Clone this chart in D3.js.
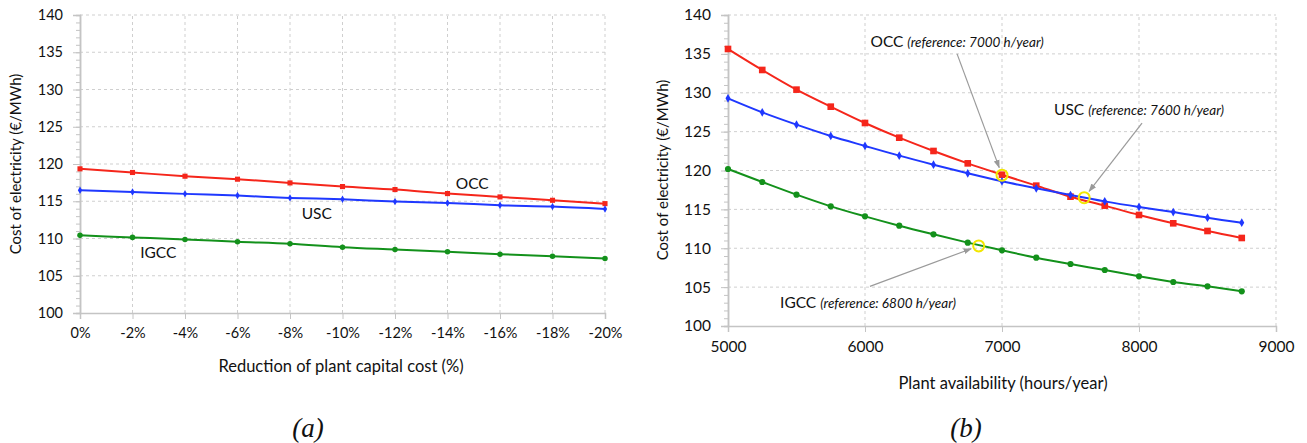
<!DOCTYPE html>
<html>
<head>
<meta charset="utf-8">
<script src="https://cdn.jsdelivr.net/npm/d3@7"></script>
<style>
  body { margin: 0; background: #fff; }
  svg text { font-family: Lato, "Open Sans", sans-serif; fill: #111; }
</style>
</head>
<body>
<script>
// panel (a): capital cost reduction
let capexCats = ["0%", "-2%", "-4%", "-6%", "-8%", "-10%", "-12%", "-14%", "-16%", "-18%", "-20%"];
let capexOCC  = [119.35, 118.86, 118.36, 117.96, 117.46, 116.97, 116.57, 116.03, 115.58, 115.13, 114.68];
let capexUSC  = [116.48, 116.25, 115.99, 115.76, 115.45, 115.26, 114.95, 114.77, 114.46, 114.28, 113.96];
let capexIGCC = [110.42, 110.15, 109.88, 109.56, 109.29, 108.84, 108.53, 108.22, 107.90, 107.63, 107.32];

// panel (b): plant availability
let hours    = [5000, 5250, 5500, 5750, 6000, 6250, 6500, 6750, 7000, 7250, 7500, 7750, 8000, 8250, 8500, 8750];
let availOCC = [135.63, 132.93, 130.40, 128.21, 126.11, 124.22, 122.51, 120.92, 119.46, 118.05, 116.63, 115.48, 114.28, 113.21, 112.22, 111.32];
let availUSC = [129.28, 127.48, 125.90, 124.44, 123.16, 121.91, 120.75, 119.64, 118.61, 117.71, 116.85, 116.03, 115.31, 114.66, 113.93, 113.29];
let availIGCC= [120.19, 118.52, 116.89, 115.39, 114.10, 112.90, 111.79, 110.72, 109.73, 108.79, 107.97, 107.20, 106.39, 105.66, 105.10, 104.46];

let yTicks = [100, 105, 110, 115, 120, 125, 130, 135, 140];
let hourTicks = [5000, 6000, 7000, 8000, 9000];

// reference points (b): label spot, arrow start, highlighted point
let refNotes = [
  { name: "OCC",  note: "(reference: 7000 h/year)", lx: 6040, ly: 135.9, ax: 6672, ay: 135.0, px: 7000, py: 119.4 },
  { name: "USC",  note: "(reference: 7600 h/year)", lx: 7380, ly: 127.1, ax: 8022, ay: 126.1, px: 7600, py: 116.5 },
  { name: "IGCC", note: "(reference: 6800 h/year)", lx: 5380, ly: 102.3, ax: 6036, ay: 105.1, px: 6830, py: 110.3 }
];

// series labels (a), position as category index + value
let capexLabels = [
  { text: "OCC",  idx: 7.47, v: 117.45 },
  { text: "USC",  idx: 4.51, v: 113.4 },
  { text: "IGCC", idx: 1.49, v: 108.2 }
];

let red = "#f5261b", blue = "#1f38ff", green = "#13911b";
let gridColor = "#cfcfcf", axisColor = "#c4c4c4";

let width = 1307, height = 443;
let svg = d3.select("body").append("svg")
            .attr("width", width)
            .attr("height", height);

let defs = svg.append("defs");
defs.append("marker")
    .attr("id", "arrow")
    .attr("viewBox", "0 0 10 10")
    .attr("refX", 9).attr("refY", 5)
    .attr("markerWidth", 7).attr("markerHeight", 7)
    .attr("orient", "auto")
  .append("path")
    .attr("d", "M0,1.5 L10,5 L0,8.5 Z")
    .attr("fill", "#9a9a9a");

function styleAxis(g) {
  g.select(".domain").attr("stroke", axisColor).attr("stroke-width", 1.5);
  g.selectAll(".tick line").attr("stroke", axisColor);
  g.selectAll(".tick text").attr("fill", "#111");
}

function drawFrame(opts) {
  let x = opts.x, y = opts.y;
  let x0 = opts.xRange[0], x1 = opts.xRange[1];
  let y0 = y.range()[0], y1 = y.range()[1];
  let g = svg.append("g");

  // horizontal grid
  g.append("g").selectAll("line").data(yTicks.slice(1)).join("line")
    .attr("x1", x0).attr("x2", x1)
    .attr("y1", d => y(d)).attr("y2", d => y(d))
    .attr("stroke", gridColor).attr("stroke-dasharray", "3,3");
  // vertical grid
  g.append("g").selectAll("line").data(opts.xGrid).join("line")
    .attr("x1", d => opts.xPos(d)).attr("x2", d => opts.xPos(d))
    .attr("y1", y0).attr("y2", y1)
    .attr("stroke", gridColor).attr("stroke-dasharray", "3,3");

  // minor y ticks
  g.append("g")
    .attr("transform", "translate(" + x0 + ",0)")
    .call(d3.axisLeft(y).tickValues(d3.range(100, 141, 1)).tickSize(4).tickFormat(""))
    .call(styleAxis);
  // major y ticks
  g.append("g")
    .attr("transform", "translate(" + x0 + ",0)")
    .call(d3.axisLeft(y).tickValues(yTicks).tickSize(7).tickPadding(10))
    .call(styleAxis)
    .selectAll(".tick text").attr("font-size", opts.tickFont);

  // x axis
  g.append("g")
    .attr("transform", "translate(0," + y0 + ")")
    .call(opts.xAxis.tickSize(6).tickPadding(9))
    .call(styleAxis)
    .selectAll(".tick text").attr("font-size", opts.tickFont);

  g.append("text")
    .attr("x", opts.xTitle[0]).attr("y", opts.xTitle[1])
    .attr("text-anchor", "middle").attr("font-size", 16.5)
    .text(opts.xLabel);
  g.append("text")
    .attr("transform", "translate(" + opts.yTitle[0] + "," + opts.yTitle[1] + ") rotate(-90)")
    .attr("text-anchor", "middle").attr("dominant-baseline", "central").attr("font-size", 15)
    .text("Cost of electricity (€/MWh)");
  g.append("text")
    .attr("x", opts.tag[0]).attr("y", opts.tag[1])
    .attr("text-anchor", "middle")
    .style("font-family", "'Liberation Serif', 'DejaVu Serif', serif")
    .style("font-style", "italic").attr("font-size", 27)
    .text(opts.tagText);
  return g;
}

function drawSeries(g, pts, color, shape, size) {
  let line = d3.line().x(d => d[0]).y(d => d[1]).curve(d3.curveMonotoneX);
  g.append("path").datum(pts)
    .attr("d", line)
    .attr("fill", "none").attr("stroke", color).attr("stroke-width", 2);
  g.append("g").selectAll("path").data(pts).join("path")
    .attr("transform", d => "translate(" + d[0] + "," + d[1] + ")")
    .attr("d", d3.symbol().type(shape).size(size))
    .attr("fill", color);
}

// ---------- panel (a)
let xA = d3.scalePoint().domain(capexCats).range([80, 605]);
let yA = d3.scaleLinear().domain([100, 140]).range([313, 15]);
let gA = drawFrame({
  x: xA, y: yA, xRange: [80, 605],
  xGrid: capexCats.slice(1), xPos: d => xA(d),
  xAxis: d3.axisBottom(xA), tickFont: 14.5,
  xLabel: "Reduction of plant capital cost (%)", xTitle: [341, 372],
  yTitle: [15, 164], tag: [308, 437], tagText: "(a)"
});
drawSeries(gA, capexCats.map((c, i) => [xA(c), yA(capexOCC[i])]), red, d3.symbolSquare, 26);
drawSeries(gA, capexCats.map((c, i) => [xA(c), yA(capexUSC[i])]), blue, d3.symbolDiamond, 16);
drawSeries(gA, capexCats.map((c, i) => [xA(c), yA(capexIGCC[i])]), green, d3.symbolCircle, 24);

gA.append("g").selectAll("text").data(capexLabels).join("text")
  .attr("x", d => xA(capexCats[0]) + d.idx * xA.step())
  .attr("y", d => yA(d.v))
  .attr("text-anchor", "middle").attr("dominant-baseline", "central")
  .attr("font-size", 15.5)
  .text(d => d.text);

// ---------- panel (b)
let xB = d3.scaleLinear().domain([5000, 9000]).range([728, 1276]);
let yB = d3.scaleLinear().domain([100, 140]).range([326, 15]);
let gB = drawFrame({
  x: xB, y: yB, xRange: [728, 1276],
  xGrid: hourTicks.slice(1), xPos: d => xB(d),
  xAxis: d3.axisBottom(xB).tickValues(hourTicks).tickFormat(d3.format("d")), tickFont: 15.5,
  xLabel: "Plant availability (hours/year)", xTitle: [1003, 389],
  yTitle: [662, 170], tag: [966, 437], tagText: "(b)"
});
drawSeries(gB, hours.map((h, i) => [xB(h), yB(availOCC[i])]), red, d3.symbolSquare, 44);
drawSeries(gB, hours.map((h, i) => [xB(h), yB(availUSC[i])]), blue, d3.symbolDiamond, 22);
drawSeries(gB, hours.map((h, i) => [xB(h), yB(availIGCC[i])]), green, d3.symbolCircle, 30);

// reference annotations
let notes = gB.append("g");
refNotes.forEach(function(d) {
  let px = xB(d.px), py = yB(d.py);
  let sx = xB(d.ax), sy = yB(d.ay);
  let len = Math.hypot(sx - px, sy - py);
  let tx = px + (sx - px) / len * 8, ty = py + (sy - py) / len * 8;
  notes.append("line")
    .attr("x1", sx).attr("y1", sy).attr("x2", tx).attr("y2", ty)
    .attr("stroke", "#9a9a9a").attr("stroke-width", 1.2)
    .attr("marker-end", "url(#arrow)");
  notes.append("circle")
    .attr("cx", px).attr("cy", py).attr("r", 5.5)
    .attr("fill", "none").attr("stroke", "#f2e600").attr("stroke-width", 2);
  let t = notes.append("text")
    .attr("x", xB(d.lx)).attr("y", yB(d.ly))
    .attr("font-size", 15.5);
  t.append("tspan").text(d.name + " ");
  t.append("tspan").attr("font-size", 13.5).style("font-style", "italic").text(d.note);
});
</script>
</body>
</html>
